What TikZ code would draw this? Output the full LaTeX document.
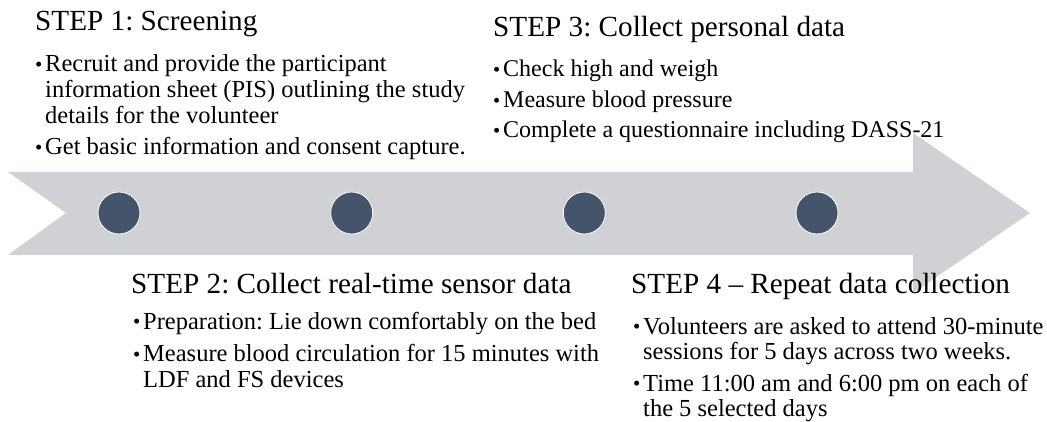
\documentclass[tikz,border=0pt]{standalone}
\usepackage{graphicx}
\usepackage{fontspec}
\setmainfont{Liberation Serif}
\usepackage{xcolor}
\frenchspacing

\definecolor{arrowgray}{RGB}{208,209,213}
\definecolor{dotslate}{RGB}{68,84,106}

% small bullet and the hanging indent of wrapped lines
\newcommand{\bul}{\makebox[10pt][l]{\raisebox{0.02em}{\scalebox{0.85}{\textbullet}}}}
\newcommand{\ind}{\hspace*{10pt}}
% list block whose baseline is that of its first line
\newcommand{\blist}[1]{\begin{tabular}[t]{@{}l@{}}#1\end{tabular}}

\tikzset{
  steptitle/.style={anchor=base west,inner sep=0pt,font=\fontsize{29.2}{33}\selectfont},
  steplist/.style={anchor=base west,inner sep=0pt,font=\fontsize{24.5}{26}\selectfont},
  stepdot/.style={circle,fill=dotslate,draw=white,line width=0.8pt,minimum size=42pt,inner sep=0pt}
}

\begin{document}
\begin{tikzpicture}[x=1pt,y=-1pt]
  \useasboundingbox (0,0) rectangle (1047,422);
  % timeline arrow
  \fill[arrowgray] (8,172) -- (913,172) -- (913,133) -- (1030,213) -- (913,293)
                   -- (913,255) -- (8,255) -- (66,213) -- cycle;
  \node[stepdot] at (119,213) (d1) {};
  \node[stepdot] at (351.7,213) (d2) {};
  \node[stepdot] at (584.3,213) (d3) {};
  \node[stepdot] at (817,213) (d4) {};

  % step 1
  \node[steptitle] at (35,31) (t1) {STEP 1: Screening};
  \node[steplist] at (35,72) (l1) {\blist{\bul Recruit and provide the participant\\
    \ind information sheet (PIS) outlining the study\\
    \ind details for the volunteer\\[5pt]
    \bul Get basic information and consent capture.}};

  % step 3
  \node[steptitle] at (493,37) (t3) {STEP 3: Collect personal data};
  \node[steplist,font=\fontsize{24}{25.5}\selectfont] at (493,77) (l3) {\blist{\bul Check high and weigh\\[5pt]
    \bul Measure blood pressure\\[5pt]
    \bul Complete a questionnaire including DASS-21}};

  % step 2
  \node[steptitle] at (131,293) (t2) {STEP 2: Collect real-time sensor data};
  \node[steplist,font=\fontsize{24.5}{25.5}\selectfont] at (133,329) (l2) {\blist{\bul Preparation: Lie down comfortably on the bed\\[7pt]
    \bul Measure blood circulation for 15 minutes with\\
    \ind LDF and FS devices}};

  % step 4
  \node[steptitle] at (631,293) (t4) {STEP 4 -- Repeat data collection};
  \node[steplist,font=\fontsize{24.5}{25.5}\selectfont] at (633,334) (l4) {\blist{\bul Volunteers are asked to attend 30-minute\\
    \ind sessions for 5 days across two weeks.\\[6pt]
    \bul Time 11:00 am and 6:00 pm on each of\\
    \ind the 5 selected days}};
\end{tikzpicture}
\end{document}
